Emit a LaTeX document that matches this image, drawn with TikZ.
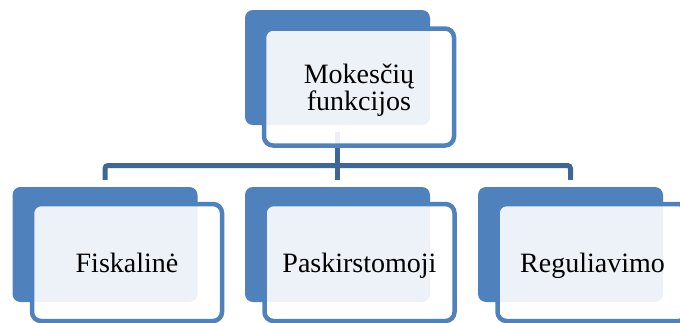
\documentclass[tikz,border=0pt]{standalone}
\usepackage{fontspec}
\setmainfont{Liberation Serif}
\usetikzlibrary{calc}
\definecolor{accent}{HTML}{4F81BD}
\definecolor{connc}{HTML}{3E6696}
\tikzset{
  backbox/.style={fill=accent, draw=none, rounded corners=8pt, inner sep=0pt,
    minimum width=185pt, minimum height=115pt},
  frontbox/.style={draw=accent, line width=4.5pt, fill=white, fill opacity=0.9,
    text opacity=1, rounded corners=9pt, inner sep=0pt,
    minimum width=190pt, minimum height=117pt,
    font=\fontsize{28}{27}\selectfont, text height=19pt, text depth=0pt},
  conn/.style={draw=connc, line width=5pt, rounded corners=3pt},
  lbl/.style={font=\fontsize{28}{27}\selectfont, align=center, inner sep=0pt}
}
\begin{document}
\begin{tikzpicture}[x=1pt,y=-1pt]
\useasboundingbox (0,0) rectangle (680,322);
\clip (0,0) rectangle (680,322);
% back boxes
\node[backbox] (tb) at (337.5,67.5) {};
\node[backbox] (b1) at (105,244.5) {};
\node[backbox] (b2) at (337.5,244.5) {};
\node[backbox] (b3) at (570.5,244.5) {};
% connectors
\coordinate (hub) at (337.5,165.5);
\draw[conn] ($(tb.south)+(0,7)$) -- ($(b2.north)+(0,-7)$);
\draw[conn] (hub) -| ($(b1.north)+(0,-7)$);
\draw[conn] (hub) -| ($(b3.north)+(0,-7)$);
% front boxes
\node[frontbox] (ft) at (359,87) {};
\node[lbl] (tt) at (359,90) {Mokesčių\\funkcijos};
\node[frontbox] (f1) at (127,262.5) {Fiskalinė};
\node[frontbox] (f2) at (359.5,262.5) {Paskirstomoji};
\node[frontbox] (f3) at (592.5,262.5) {Reguliavimo};
\end{tikzpicture}
\end{document}
